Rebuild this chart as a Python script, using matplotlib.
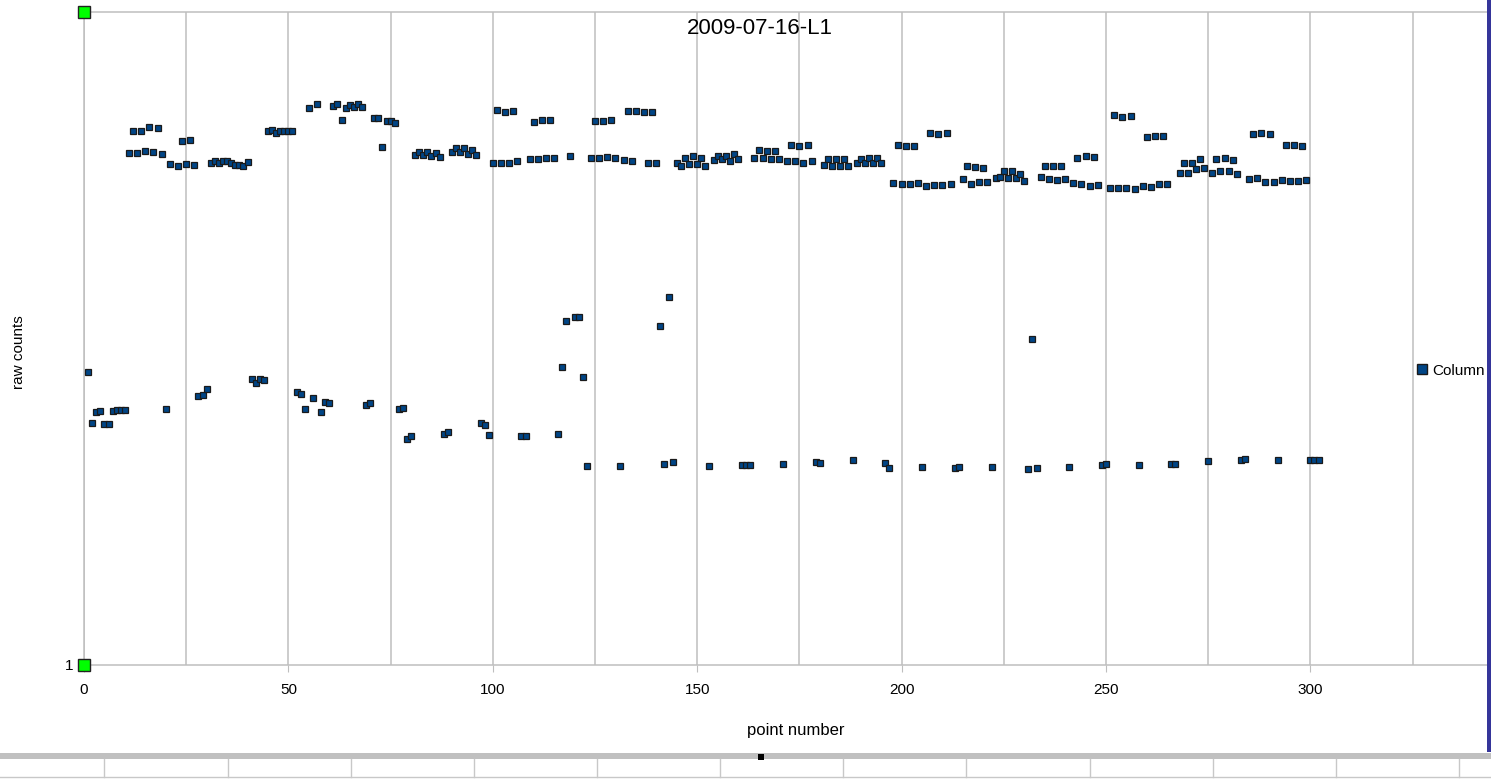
import matplotlib
matplotlib.use('Agg')
import matplotlib.pyplot as plt
from matplotlib.patches import Rectangle
from matplotlib.lines import Line2D

plt.rcParams['font.family'] = ['Liberation Sans', 'DejaVu Sans']

# point number / raw counts
point_number = [
    1, 2, 3, 4, 5, 6, 7, 8, 9, 10, 11, 12, 13, 14, 15, 16, 17, 18, 19, 20,
    21, 23, 24, 25, 26, 27, 28, 29, 30, 31, 32, 33, 34, 35, 36, 37, 38, 39, 40,
    41, 42, 43, 44, 45, 46, 47, 48, 49, 50, 51, 52, 53, 54, 55, 56, 57, 58, 59, 60,
    61, 62, 63, 64, 65, 66, 67, 68, 69, 70, 71, 72, 73, 74, 75, 76, 77, 78, 79, 80,
    81, 82, 83, 84, 85, 86, 87, 88, 89, 90, 91, 92, 93, 94, 95, 96, 97, 98, 99, 100,
    101, 102, 103, 104, 105, 106, 107, 108, 109, 110, 111, 112, 113, 114, 115, 116, 117, 118, 119, 120,
    121, 122, 123, 124, 125, 126, 127, 128, 129, 130, 131, 132, 133, 134, 135, 137, 138, 139, 140,
    141, 142, 143, 144, 145, 146, 147, 148, 149, 150, 151, 152, 153, 154, 155, 156, 157, 158, 159, 160,
    161, 162, 163, 164, 165, 166, 167, 168, 169, 170, 171, 172, 173, 174, 175, 176, 177, 178, 179, 180,
    181, 182, 183, 184, 185, 186, 187, 188, 189, 190, 191, 192, 193, 194, 195, 196, 197, 198, 199, 200,
    201, 202, 203, 204, 205, 206, 207, 208, 209, 210, 211, 212, 213, 214, 215, 216, 217, 218, 219, 220,
    221, 222, 223, 224, 225, 226, 227, 228, 229, 230, 231, 232, 233, 234, 235, 236, 237, 238, 239, 240,
    241, 242, 243, 244, 245, 246, 247, 248, 249, 250, 251, 252, 253, 254, 255, 256, 257, 258, 259, 260,
    261, 262, 263, 264, 265, 266, 267, 268, 269, 270, 271, 272, 273, 274, 275, 276, 277, 278, 279, 280,
    281, 282, 283, 284, 285, 286, 287, 288, 289, 290, 291, 292, 293, 294, 295, 296, 297, 298, 299, 300,
    301, 302,
]
raw_counts = [
    294, 243, 254, 255, 242, 242, 255, 256, 256, 256, 513, 535, 513, 535, 515, 539, 514, 538, 512, 257,
    502, 500, 525, 502, 526, 501, 270, 271, 277, 503, 505, 503, 505, 505, 503, 501, 501, 500, 504,
    287, 283, 287, 286, 535, 536, 533, 535, 535, 535, 535, 274, 272, 257, 558, 268, 562, 254, 264, 263,
    560, 562, 546, 558, 561, 559, 562, 559, 261, 263, 548, 548, 519, 545, 545, 543, 257, 258, 227, 230,
    511, 514, 511, 514, 510, 513, 509, 232, 234, 514, 518, 514, 518, 512, 516, 511, 243, 241, 231, 503,
    556, 503, 554, 503, 555, 505, 230, 230, 507, 544, 507, 546, 508, 546, 508, 232, 299, 345, 510, 349,
    349, 289, 200, 508, 545, 508, 545, 509, 546, 508, 200, 506, 555, 505, 555, 554, 503, 554, 503,
    340, 202, 369, 204, 503, 500, 508, 502, 510, 502, 508, 500, 200, 506, 510, 507, 510, 505, 512, 507,
    201, 201, 201, 508, 516, 508, 515, 507, 515, 507, 202, 505, 521, 505, 520, 503, 521, 505, 204, 203,
    501, 507, 500, 507, 500, 507, 500, 206, 503, 507, 503, 508, 503, 508, 503, 203, 198, 483, 521, 482,
    520, 482, 520, 483, 199, 480, 533, 481, 532, 481, 533, 482, 198, 199, 487, 500, 482, 499, 484, 498,
    484, 199, 488, 489, 495, 488, 495, 488, 492, 485, 197, 327, 198, 489, 500, 487, 500, 486, 500, 487,
    199, 483, 508, 482, 510, 480, 509, 481, 201, 202, 478, 551, 478, 549, 478, 550, 477, 201, 480, 529,
    479, 530, 482, 530, 482, 202, 202, 493, 503, 493, 503, 497, 507, 498, 205, 493, 507, 495, 508, 495,
    506, 492, 206, 207, 487, 532, 488, 533, 484, 532, 484, 206, 486, 521, 485, 521, 485, 520, 486, 206,
    206, 206,
]

W, H = 1491, 779
fig = plt.figure(figsize=(W / 100, H / 100), dpi=100)
fig.patch.set_facecolor('white')

ax = fig.add_axes([84 / W, 1 - 665 / H, (1487 - 84) / W, (665 - 12) / H])
grid_col = '#bebebe'

ax.plot(point_number, raw_counts, linestyle='none', marker='s', markersize=5.0,
        markerfacecolor='#004586', markeredgecolor='#1a1a1a', markeredgewidth=0.9, zorder=3)

ax.set_xlim(0, 343.2)
ax.set_ylim(1, 654)
ax.set_xticks(range(0, 301, 50))
ax.set_xticks(range(0, 350, 25), minor=True)
ax.set_yticks([1])
ax.grid(True, which='both', axis='x', color=grid_col, linewidth=1.1)
ax.tick_params(axis='x', which='major', length=5, width=0.8, color=grid_col, pad=8, labelsize=11)
ax.tick_params(axis='x', which='minor', length=0)
ax.tick_params(axis='y', length=4, width=0.8, color=grid_col, pad=4, labelsize=11)

for side in ['top', 'bottom', 'left']:
    ax.spines[side].set_color(grid_col)
    ax.spines[side].set_linewidth(1.1)
ax.spines['right'].set_visible(False)

# green selection handles on the y axis
ax.plot([0, 0], [0, 1], linestyle='none', marker='s', markersize=8, markerfacecolor='#00ff00',
        markeredgecolor='#222222', markeredgewidth=1, transform=ax.transAxes, clip_on=False, zorder=5)

fig.text(760 / W, 1 - 28 / H, '2009-07-16-L1', ha='center', va='center', fontsize=16)
fig.text(19 / W, 1 - 352 / H, 'raw counts', ha='center', va='center', rotation=90, fontsize=11)
fig.text(796 / W, 1 - 730 / H, 'point number', ha='center', va='center', fontsize=12)

# legend entry (cut off at the window edge)
fig.add_artist(Line2D([1421.5 / W], [1 - 369 / H], marker='s', markersize=6.5, linestyle='none',
                      markerfacecolor='#004586', markeredgecolor='#1a1a1a', markeredgewidth=1))
fig.text(1432 / W, 1 - 371 / H, 'Column', ha='left', va='center', fontsize=11)

# spreadsheet strip at the bottom
fig.add_artist(Rectangle((0, 1 - 759 / H), 1, 6 / H, facecolor='#c0c0c0', edgecolor='none'))
fig.add_artist(Rectangle((758 / W, 1 - 760 / H), 6 / W, 6 / H, facecolor='black', edgecolor='none'))
fig.add_artist(Line2D([0, 1], [1 - 777 / H] * 2, color='#c8c8c8', linewidth=1))
for sx in [104, 228, 351, 474, 597, 720, 843, 966, 1090, 1213, 1336, 1459]:
    fig.add_artist(Line2D([sx / W] * 2, [1 - 777 / H, 1 - 759 / H], color='#c8c8c8', linewidth=1))

# window border on the right
fig.add_artist(Rectangle((1487 / W, 1 - 752 / H), 4 / W, 752 / H, facecolor='#35359a',
                         edgecolor='none', zorder=10))

fig.savefig('out.png', dpi=100)
